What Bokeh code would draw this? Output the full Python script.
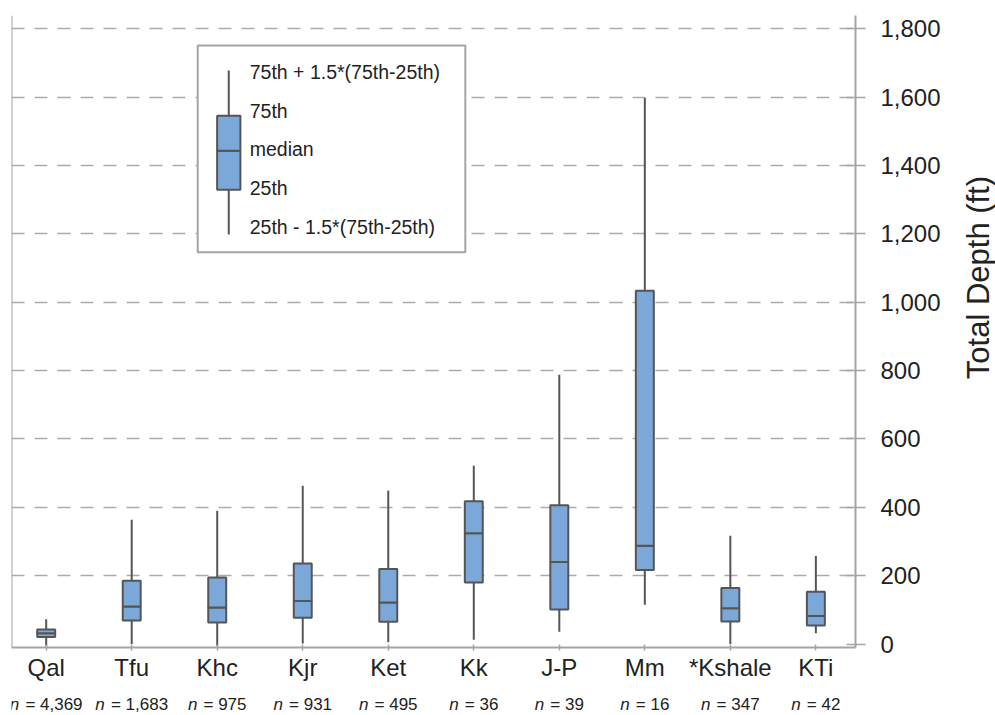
import math
from bokeh.plotting import figure
from bokeh.layouts import row, column
from bokeh.models import (FixedTicker, NumeralTickFormatter, Label, Span, ColumnDataSource, Range1d)
from bokeh.core.properties import value
from bokeh.embed import file_html
from bokeh.resources import INLINE

# ---- data (ft) ----
categories = ["Qal", "Tfu", "Khc", "Kjr", "Ket", "Kk", "J-P", "Mm", "*Kshale", "KTi"]
n_counts = ["4,369", "1,683", "975", "931", "495", "36", "39", "16", "347", "42"]
lower_whisker = [-5, 0, -5, 2, 5, 13, 36, 115, 0, 32]
q1 = [21, 69, 63, 77, 65, 180, 101, 217, 66, 54]
median = [32, 110, 107, 126, 122, 324, 240, 288, 105, 82]
q3 = [43, 185, 195, 236, 220, 418, 406, 1034, 164, 153]
upper_whisker = [73, 364, 390, 463, 449, 522, 788, 1598, 317, 258]
y_ticks = [0, 200, 400, 600, 800, 1000, 1200, 1400, 1600, 1800]
grid_ticks = [200, 400, 600, 800, 1000, 1200, 1400, 1600, 1800]
legend_labels = ["75th + 1.5*(75th-25th)", "75th", "median", "25th", "25th - 1.5*(75th-25th)"]
y_title = "Total Depth (ft)"

FONT = "Liberation Sans"
BOX_FILL = "#7ba7d9"
BOX_LINE = "#555555"
AXIS_COLOR = "#a4a4a4"
TEXT_COLOR = "#222222"

xs = list(range(len(categories)))
src = ColumnDataSource(dict(x=xs, lo=lower_whisker, q1=q1, med=median, q3=q3, hi=upper_whisker))

x_range = Range1d(-0.4056, 9.4635)
P_W, P_H = 957, 688
p = figure(width=P_W, height=P_H, output_backend="svg", toolbar_location=None,
           x_range=x_range, y_range=(-10, 1839), y_axis_location="right",
           min_border_left=11, min_border_right=P_W - 855, min_border_top=15, min_border_bottom=41)
p.outline_line_color = None
p.background_fill_color = "white"
p.border_fill_color = "white"

# x axis
p.xaxis.ticker = FixedTicker(ticks=xs)
p.xaxis.major_label_overrides = {i: c for i, c in enumerate(categories)}
p.xaxis.major_label_text_font = FONT
p.xaxis.major_label_text_font_size = "24px"
p.xaxis.major_label_text_color = TEXT_COLOR
p.xaxis.major_label_standoff = 3
p.xaxis.axis_line_color = AXIS_COLOR
p.xaxis.axis_line_width = 2
p.xaxis.major_tick_line_color = AXIS_COLOR
p.xaxis.major_tick_line_width = 1.5
p.xaxis.major_tick_in = 3
p.xaxis.major_tick_out = 3
p.xaxis.minor_tick_line_color = None
p.xgrid.visible = False

# y axis (right)
p.yaxis.ticker = FixedTicker(ticks=y_ticks)
p.yaxis.formatter = NumeralTickFormatter(format="0,0")
p.yaxis.major_label_text_font = FONT
p.yaxis.major_label_text_font_size = "24px"
p.yaxis.major_label_text_color = TEXT_COLOR
p.yaxis.major_label_standoff = 15
p.yaxis.axis_line_color = AXIS_COLOR
p.yaxis.axis_line_width = 2
p.yaxis.major_tick_line_color = AXIS_COLOR
p.yaxis.major_tick_line_width = 1.5
p.yaxis.major_tick_in = 9
p.yaxis.major_tick_out = 10
p.yaxis.minor_tick_line_color = None

p.ygrid.ticker = FixedTicker(ticks=grid_ticks)
p.ygrid.grid_line_color = "#ababab"
p.ygrid.grid_line_width = 1.5
p.ygrid.grid_line_dash = "13 10"

# left frame line
p.add_layout(Span(location=-0.4056, dimension="height", line_color=AXIS_COLOR, line_width=2))

# whiskers
p.segment(x0="x", y0="lo", x1="x", y1="q1", source=src, line_color=BOX_LINE, line_width=2)
p.segment(x0="x", y0="q3", x1="x", y1="hi", source=src, line_color=BOX_LINE, line_width=2)
# boxes (two halves so the median line shows)
p.vbar(x="x", bottom="q1", top="med", width=0.21, source=src,
       fill_color=BOX_FILL, line_color=BOX_LINE, line_width=2)
p.vbar(x="x", bottom="med", top="q3", width=0.21, source=src,
       fill_color=BOX_FILL, line_color=BOX_LINE, line_width=2)

# legend (drawn in data coordinates)
p.quad(left=[1.772], right=[4.901], bottom=[1146], top=[1751], fill_color="white",
       line_color=AXIS_COLOR, line_width=2)
p.segment(x0=[2.135, 2.135], y0=[1198, 1546], x1=[2.135, 2.135], y1=[1329, 1678],
          line_color=BOX_LINE, line_width=2)
p.quad(left=[1.999, 1.999], right=[2.271, 2.271], bottom=[1329, 1443], top=[1443, 1546],
       fill_color=BOX_FILL, line_color=BOX_LINE, line_width=2)
for txt, yy in zip(legend_labels, [1673, 1561, 1447, 1333, 1219]):
    p.add_layout(Label(x=2.38, y=yy, text=txt, text_font=FONT, text_font_size="19.5px",
                       text_color=TEXT_COLOR, text_align="left", text_baseline="middle"))

# ---- strip under the plot with the n counts ----
N_H = 715 - P_H
pn = figure(width=P_W, height=N_H, output_backend="svg", toolbar_location=None,
            x_range=x_range, y_range=(0, N_H), min_border_left=11,
            min_border_right=P_W - 855, min_border_top=0, min_border_bottom=0)
pn.axis.visible = False
pn.grid.visible = False
pn.outline_line_color = None
W = {"n": .556, " ": .278, "=": .584, ",": .278}
def tw(s, fs):
    return sum(W.get(ch, .556) for ch in s) * fs
NFS = 17
GAP = 0.36 * NFS
rest = ["= " + n for n in n_counts]
totals = [tw("n", NFS) + GAP + tw(r, NFS) for r in rest]
pn.text(x=xs, y=[11.5] * len(xs), text=["n"] * len(xs), x_offset=[-t / 2 for t in totals],
        text_font=value(FONT), text_font_size=f"{NFS}px", text_font_style="italic",
        text_color=TEXT_COLOR, text_align="left", text_baseline="middle")
pn.text(x=xs, y=[11.5] * len(xs), text=rest,
        x_offset=[-t / 2 + tw("n", NFS) + GAP for t in totals],
        text_font=value(FONT), text_font_size=f"{NFS}px",
        text_color=TEXT_COLOR, text_align="left", text_baseline="middle")

# ---- strip on the right with the y-axis title ----
T_W = 995 - P_W
pt = figure(width=T_W, height=715, output_backend="svg", toolbar_location=None,
            x_range=(0, T_W), y_range=(0, 715), min_border=0)
pt.axis.visible = False
pt.grid.visible = False
pt.outline_line_color = None
pt.text(x=[21], y=[438], text=[y_title], angle=math.pi / 2, text_font=value(FONT),
        text_font_size="31px", text_color=TEXT_COLOR, text_align="center",
        text_baseline="middle")

layout = row(column(p, pn, spacing=0), pt, spacing=0)
open("out.html", "w").write(file_html(layout, INLINE))
